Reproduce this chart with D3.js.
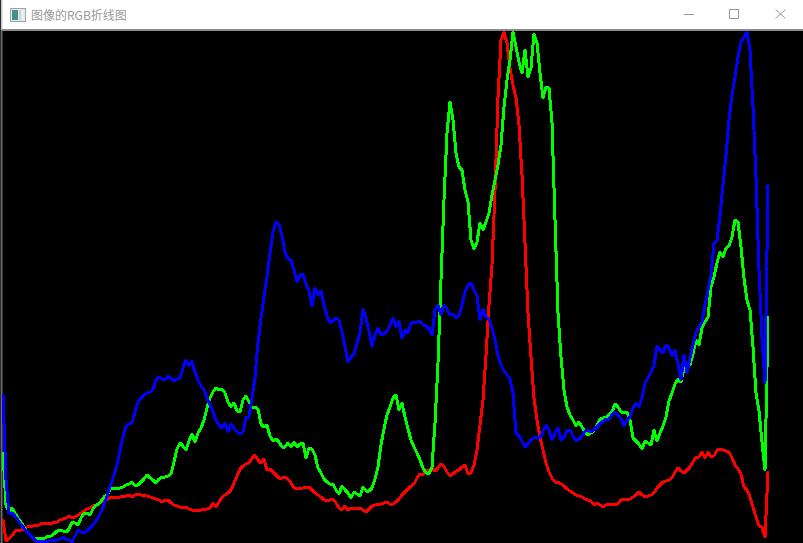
<!DOCTYPE html>
<html><head><meta charset="utf-8">
<style>html,body{margin:0;padding:0;background:#fff;overflow:hidden}svg{display:block}</style>
<script src="https://cdnjs.cloudflare.com/ajax/libs/d3/7.8.5/d3.min.js"></script>
</head><body><svg id="c" width="803" height="543"></svg>
<script>
const title = "图像的RGB折线图";
const redValues = [23,2,5,7,12,13,13,14,16,17,17,18,18,20,19,20,19,21,21,23,24,25,27,25,26,28,30,32,34,35,37,38,40,41,42,44,46,46,45,46,47,47,48,46,48,49,48,48,47,46,45,44,43,41,43,43,40,38,37,36,36,36,34,33,32,33,33,34,34,35,40,36,41,46,48,50,53,60,67,74,77,79,80,85,88,83,80,84,73,74,71,68,65,65,66,64,60,55,54,55,55,56,56,53,50,48,46,43,42,43,44,40,35,33,37,33,35,35,35,35,33,31,34,37,38,39,39,40,41,39,39,41,44,48,51,54,57,59,65,69,68,73,73,75,72,75,79,77,71,67,69,72,73,76,78,69,70,78,93,118,143,188,238,278,353,446,503,511,500,475,458,445,418,368,300,230,186,145,123,106,93,80,71,65,61,61,59,57,54,52,50,48,47,46,44,43,42,38,40,38,36,38,39,39,39,39,43,44,43,44,46,48,51,48,46,47,48,50,55,58,61,62,63,65,71,75,72,70,73,76,81,86,86,91,85,91,86,87,93,94,93,92,91,85,78,74,69,56,53,46,36,26,17,16,6,71];
const greenValues = [90,38,31,35,30,25,21,16,11,7,5,4,5,4,5,7,7,9,12,13,12,11,14,21,20,18,25,30,30,28,34,38,39,43,47,49,55,55,55,55,56,58,59,61,57,58,61,64,68,65,63,60,64,66,66,67,69,81,94,100,97,93,102,109,101,110,115,123,135,145,151,155,153,154,150,141,136,140,132,131,143,147,141,135,136,134,119,116,118,107,102,104,101,96,96,100,96,101,96,99,100,85,95,94,88,75,70,64,61,59,59,53,49,57,53,50,45,51,49,47,56,52,52,55,64,76,98,114,128,136,145,148,133,140,126,114,103,96,90,83,75,70,69,76,120,180,263,343,410,441,423,390,376,373,353,341,303,294,301,320,313,321,330,348,363,378,398,436,463,483,511,496,481,470,493,466,475,509,500,470,445,456,455,420,323,230,186,153,136,128,123,117,121,116,111,108,110,112,118,124,125,126,128,131,139,136,131,131,131,123,105,102,99,94,102,100,98,113,102,110,117,126,142,150,159,164,161,175,179,178,189,203,198,215,221,226,256,266,280,291,286,295,297,306,323,321,296,265,243,233,196,150,132,101,73,226];
const blueValues = [148,63,29,30,27,23,18,15,11,8,5,2,1,2,2,2,3,3,3,4,6,4,3,1,7,13,11,10,12,15,18,22,27,33,41,50,59,68,78,93,106,117,119,120,131,141,145,148,150,151,153,163,166,164,163,167,165,162,164,165,175,183,177,182,171,163,157,153,145,138,131,123,118,115,120,111,119,115,111,109,111,126,126,145,165,200,225,246,266,290,311,321,319,307,291,284,283,273,261,268,269,259,252,237,255,248,252,238,227,220,222,225,223,211,196,181,186,189,200,210,234,225,212,197,208,215,208,209,212,218,225,216,222,205,213,210,220,221,221,222,218,217,214,208,233,238,228,238,234,228,229,225,227,238,251,258,260,253,247,223,234,226,224,215,203,188,178,172,168,164,150,110,107,102,96,99,103,105,106,105,112,118,113,103,110,115,103,105,113,113,107,102,104,107,112,113,111,113,116,119,122,124,123,129,131,127,125,117,123,126,135,140,136,145,160,165,171,178,197,193,190,198,195,187,193,179,163,188,170,185,198,211,216,221,238,253,268,300,302,328,358,388,423,448,466,486,501,506,511,493,436,366,273,206,160,358];
const seriesColors = ["#ff0000","#00ff00","#0000ff"];

const svg = d3.select("#c");
const W = 803, H = 543, plotTop = 31;
const x = d3.scaleLinear().domain([0,255]).range([3,768]);
const y = d3.scaleLinear().domain([0,512]).range([H,plotTop]);

svg.append("rect").attr("width",W).attr("height",30).attr("fill","#ffffff");
svg.append("rect").attr("x",2).attr("y",30).attr("width",W-2).attr("height",H-30).attr("fill","#000");
svg.append("rect").attr("x",0).attr("y",0).attr("width",1).attr("height",H).attr("fill","#2a2a2a");
svg.append("rect").attr("x",1).attr("y",30).attr("width",1.5).attr("height",H-30).attr("fill","#6e6e6e");
svg.append("rect").attr("x",1).attr("y",0).attr("width",1.5).attr("height",30).attr("fill","#c8c8c8");
svg.append("rect").attr("x",2).attr("y",29).attr("width",W-2).attr("height",2).attr("fill","#8a8a8a");

svg.append("defs").append("clipPath").attr("id","plot").append("rect")
  .attr("x",2).attr("y",31).attr("width",W-2).attr("height",H-31);

const line = d3.line().x((d,i)=>x(i)).y(d=>y(d));
svg.append("g").attr("clip-path","url(#plot)")
  .selectAll("path").data([redValues,greenValues,blueValues]).join("path")
  .attr("d",line).attr("fill","none").attr("stroke",(d,i)=>seriesColors[i])
  .attr("stroke-width",3).attr("stroke-linejoin","round").attr("stroke-linecap","round")
  .attr("shape-rendering","crispEdges");

// title bar
const bar = svg.append("g");
bar.append("rect").attr("x",10.5).attr("y",8.5).attr("width",15).attr("height",13).attr("fill","#e8eef0").attr("stroke","#a0a0a8");
bar.append("rect").attr("x",12).attr("y",10).attr("width",6).attr("height",10).attr("fill","#3f8f8c");
bar.append("rect").attr("x",19).attr("y",10).attr("width",2).attr("height",10).attr("fill","#c4d6d8");
bar.append("text").attr("x",31).attr("y",19.5).attr("font-family","'Noto Sans CJK SC','Noto Sans',sans-serif").attr("font-size",12).attr("fill","#9a9a9a").text(title);
bar.append("line").attr("x1",684).attr("x2",694).attr("y1",14.5).attr("y2",14.5).attr("stroke","#9a9a9a");
bar.append("rect").attr("x",729.5).attr("y",9.5).attr("width",9).attr("height",9).attr("fill","none").attr("stroke","#9a9a9a");
bar.append("path").attr("d","M775.5 9.5L785.5 18.5M785.5 9.5L775.5 18.5").attr("stroke","#9a9a9a").attr("fill","none");
</script></body></html>
